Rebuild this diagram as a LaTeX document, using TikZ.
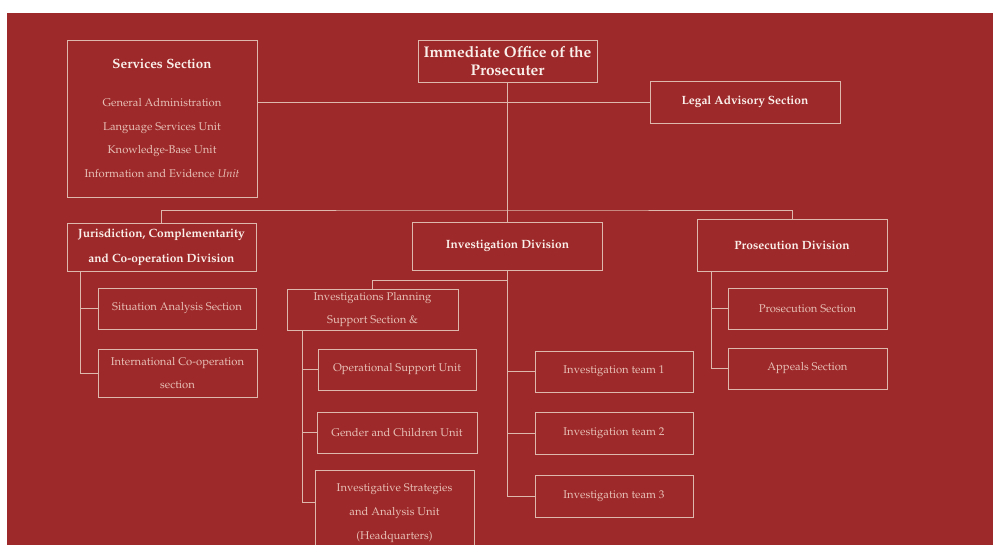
\documentclass[tikz,border=0pt]{standalone}
\usepackage[T1]{fontenc}
\usepackage{mathpazo}
\usepackage{tikz}
\usetikzlibrary{positioning}
\definecolor{oxred}{RGB}{158, 41, 42}
\definecolor{linebeige}{RGB}{222, 184, 172}
\definecolor{headwhite}{RGB}{250, 240, 235}
\definecolor{unitpink}{RGB}{230, 192, 182}
\newlength\pxl
\setlength\pxl{0.025cm}

\begin{document}
\begin{tikzpicture}[
    x=0.025cm, y=-0.025cm,
    box/.style={rectangle, draw=linebeige, line width=0.65pt,
                align=center, inner sep=0pt},
    head/.style={box, text=headwhite,
                 font=\fontsize{8.5}{17.5}\selectfont\bfseries},
    unit/.style={box, text=unitpink,
                 font=\fontsize{8}{17}\selectfont},
    link/.style={draw=linebeige, line width=0.65pt}
]

%% Page and background
\useasboundingbox (0,0) rectangle (993,545);
\clip (0,0) rectangle (993,545);
\fill[oxred] (7,13) rectangle (993,545);

%% Top level
\node[head, minimum width=179\pxl, minimum height=42\pxl,
      font=\fontsize{11}{12.8}\selectfont\bfseries]
      (office) at (507.5, 61) {Immediate Office of the\\Prosecuter};
\node[unit, minimum width=190\pxl, minimum height=157\pxl]
      (services) at (162, 118.5)
      {{\color{headwhite}\fontsize{9.5}{17}\selectfont\bfseries Services Section}\\[10pt]
       General Administration\\
       Language Services Unit\\
       Knowledge-Base Unit\\
       Information and Evidence \textit{Unit}};
\node[head, minimum width=190\pxl, minimum height=42\pxl]
      (legal) at (745, 102) {Legal Advisory Section};

%% Divisions
\node[head, minimum width=189\pxl, minimum height=48\pxl]
      (jcc) at (161.5, 247)
      {Jurisdiction, Complementarity\\and Co-operation Division};
\node[head, minimum width=190\pxl, minimum height=48\pxl]
      (invdiv) at (507.5, 246) {Investigation Division};
\node[head, minimum width=190\pxl, minimum height=52\pxl]
      (prosdiv) at (792, 245) {Prosecution Division};

%% Jurisdiction units
\node[unit, minimum width=158\pxl, minimum height=41\pxl]
      (situation) at (177, 308.5) {Situation Analysis Section};
\node[unit, minimum width=159\pxl, minimum height=48\pxl]
      (intcoop) at (177.5, 373) {International Co-operation\\section};

%% Investigation units
\node[unit, minimum width=171\pxl, minimum height=41\pxl]
      (ipss) at (372.5, 309.5) {Investigations Planning\\Support Section \&};
\node[unit, minimum width=158\pxl, minimum height=41\pxl]
      (opsupport) at (397, 369.5) {Operational Support Unit};
\node[unit, minimum width=160\pxl, minimum height=41\pxl]
      (gender) at (397, 432.5) {Gender and Children Unit};
\node[unit, minimum width=159\pxl, minimum height=86\pxl]
      (strategies) at (394.5, 513)
      {Investigative Strategies\\and Analysis Unit\\(Headquarters)};
\node[unit, minimum width=158\pxl, minimum height=41\pxl]
      (team1) at (614, 371.5) {Investigation team 1};
\node[unit, minimum width=158\pxl, minimum height=42\pxl]
      (team2) at (614, 433) {Investigation team 2};
\node[unit, minimum width=158\pxl, minimum height=42\pxl]
      (team3) at (614, 496) {Investigation team 3};

%% Prosecution units
\node[unit, minimum width=159\pxl, minimum height=41\pxl]
      (prossec) at (807.5, 308.5) {Prosecution Section};
\node[unit, minimum width=159\pxl, minimum height=41\pxl]
      (appeals) at (807.5, 368.5) {Appeals Section};

%% Connectors from the office
\coordinate (bus) at (507.5, 210);
\draw[link] (office) -- (invdiv);
\draw[link] (legal.west -| services.east) -- (legal.west);
\draw[link] (jcc.north) |- (bus) -| (prosdiv.north);

%% Jurisdiction tree
\draw[link] ([xshift=14\pxl]jcc.south west) |- (situation.west);
\draw[link] ([xshift=14\pxl]jcc.south west) |- (intcoop.west);

%% Investigation tree
\draw[link] (invdiv.south) ++(0,10) -| (ipss.north);
\draw[link] (invdiv.south) |- (team1.west);
\draw[link] (invdiv.south) |- (team2.west);
\draw[link] (invdiv.south) |- (team3.west);
\draw[link] ([xshift=16\pxl]ipss.south west) |- (opsupport.west);
\draw[link] ([xshift=16\pxl]ipss.south west) |- (gender.west);
\draw[link] ([xshift=16\pxl]ipss.south west) |- ([yshift=11\pxl]strategies.west);

%% Prosecution tree
\draw[link] ([xshift=15\pxl]prosdiv.south west) |- (prossec.west);
\draw[link] ([xshift=15\pxl]prosdiv.south west) |- (appeals.west);

\end{tikzpicture}
\end{document}
